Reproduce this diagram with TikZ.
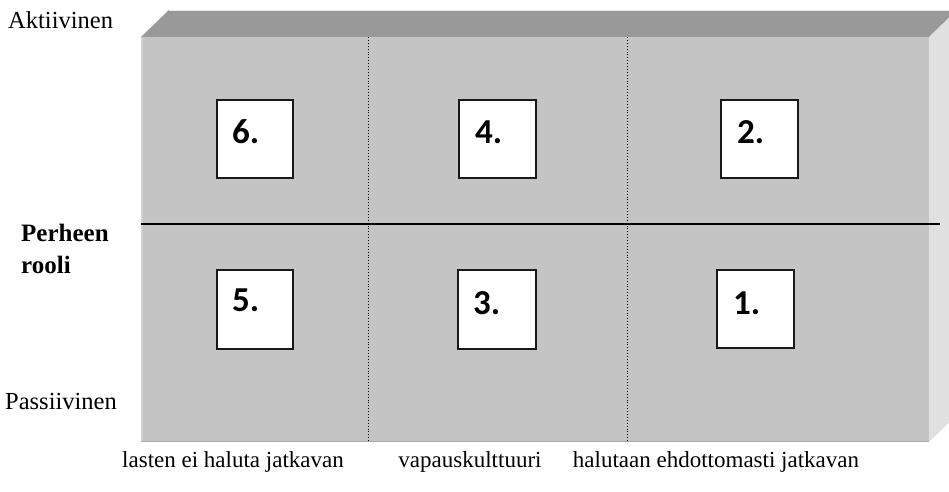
\documentclass[tikz,border=0pt]{standalone}
\usepackage{fontspec}
\setmainfont{Liberation Serif}
\newfontfamily\numfont{Carlito}
\begin{document}
\begin{tikzpicture}[x=1pt,y=-1pt,
  numbox/.style={draw=black!90,line width=1.3pt,fill=white},
  numlab/.style={font=\numfont\bfseries\fontsize{35}{38}\selectfont,anchor=base west,inner sep=0pt},
  lab/.style={font=\fontsize{24.5}{28}\selectfont,inner sep=0pt},
  botlab/.style={font=\fontsize{23}{28}\selectfont,inner sep=0pt,anchor=base},
  blab/.style={font=\bfseries\fontsize{25}{32}\selectfont,inner sep=0pt,align=left}]
\useasboundingbox (0,0) rectangle (949,491);
\clip (0,0) rectangle (949,491);
\definecolor{frontc}{HTML}{C4C4C4}
\definecolor{topc}{HTML}{999999}
\definecolor{sidec}{HTML}{E0E0E0}
% faces
\fill[topc] (141,37) -- (169,10) -- (957,10) -- (929,37) -- cycle;
\fill[sidec] (929,37) -- (957,10) -- (957,415) -- (929,442) -- cycle;
\fill[frontc] (141,37) rectangle (929,442);
\draw[black!8,line width=0.8pt] (169,10.4) -- (957,10.4);
\draw[black!18,line width=2pt] (142,38) -- (142,441);
\draw[black!33,line width=1.5pt] (141,441.5) -- (929,441.5);
% dividers
\coordinate (d1t) at (368,37); \coordinate (d1b) at (368,442);
\coordinate (d2t) at (627,37); \coordinate (d2b) at (627,442);
\coordinate (hl) at (141,224); \coordinate (hr) at (940,224);
\draw[dotted,line width=0.9pt] (d1t) -- (d1b);
\draw[dotted,line width=0.9pt] (d2t) -- (d2b);
\draw[line width=1.2pt] (hl) -- (hr);
% boxes
\draw[numbox] (217,100) rectangle (293,178);
\draw[numbox] (459,100) rectangle (536,178);
\draw[numbox] (721,100) rectangle (798,178);
\draw[numbox] (217,270) rectangle (293,349);
\draw[numbox] (458,270) rectangle (536,349);
\draw[numbox] (717,270) rectangle (794,348);
\node[numlab] (n6) at (232,143) {6.};
\node[numlab] (n4) at (475,143) {4.};
\node[numlab] (n2) at (737,143) {2.};
\node[numlab] (n5) at (232,311) {5.};
\node[numlab] (n3) at (473,314) {3.};
\node[numlab] (n1) at (733,314) {1.};
% labels
\node[lab,anchor=base west] (akt) at (8,28) {Aktiivinen};
\node[lab,anchor=base west] (pas) at (5,409) {Passiivinen};
\node[blab,anchor=base west] (per) at (21,241) {Perheen};
\node[blab,anchor=base west] (roo) at (21,273) {rooli};
\node[botlab] (b1) at (233,467) {lasten ei haluta jatkavan};
\node[botlab] (b2) at (470,467) {vapauskulttuuri};
\node[botlab] (b3) at (716,467) {halutaan ehdottomasti jatkavan};
\end{tikzpicture}
\end{document}
